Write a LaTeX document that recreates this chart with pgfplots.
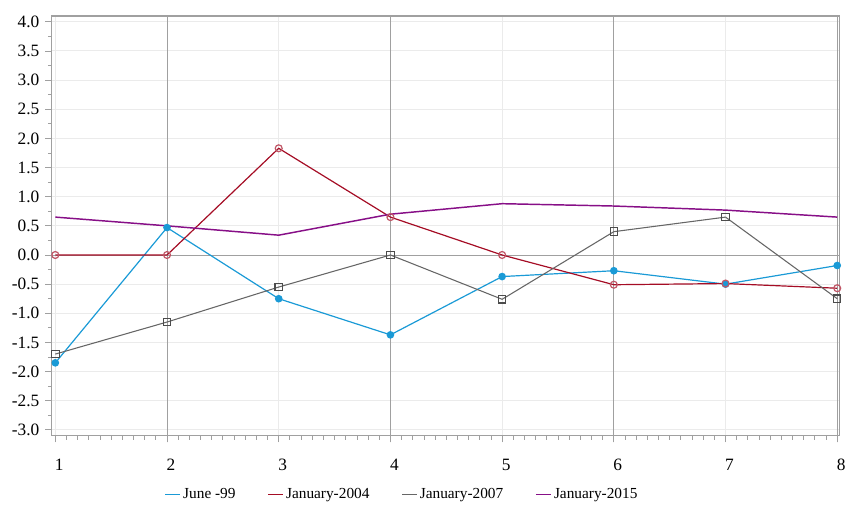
\documentclass[border=0pt]{standalone}
\usepackage{fontspec}
\setmainfont{Liberation Serif}
\usepackage{pgfplots}
\pgfplotsset{compat=1.18}

\definecolor{cjune}{HTML}{1A9AD6}
\definecolor{cjan04}{HTML}{A50D25}
\definecolor{cjan07}{HTML}{666666}
\definecolor{cjan15}{HTML}{870F87}
\definecolor{gridlight}{HTML}{EBEBEB}
\definecolor{griddark}{HTML}{A0A0A0}

\pgfplotsset{
    shortline/.style={
        legend image code/.code={\draw[mark=none,##1] (0pt,0pt) -- (11pt,0pt);}
    }
}

\begin{document}
\begin{tikzpicture}
\begin{axis}[
    scale only axis,
    width=591pt,
    height=315pt,
    xmin=0.97, xmax=8.02,
    ymin=-3.1, ymax=4.1,
    xtick={1,...,8},
    ytick={-3,-2.5,...,4},
    minor x tick num=9,
    minor y tick num=1,
    tick align=outside,
    xtick pos=bottom,
    ytick pos=left,
    major tick length=5pt,
    minor tick length=3pt,
    tick style={griddark, line width=0.6pt},
    axis line style={griddark, line width=0.8pt},
    xmajorgrids, ymajorgrids,
    major grid style={gridlight, line width=0.7pt},
    extra x ticks={2,4,6,8},
    extra x tick labels={},
    extra x tick style={grid=major, major grid style={griddark, line width=0.7pt}},
    extra y ticks={0},
    extra y tick labels={},
    extra y tick style={grid=major, major grid style={griddark, line width=0.7pt}},
    /pgf/number format/assume math mode=true,
    /pgf/number format/.cd, fixed, fixed zerofill, precision=1, /tikz/.cd,
    xticklabel={\pgfmathprintnumber[precision=0,fixed zerofill=false]{\tick}},
    xticklabel style={font=\fontsize{13}{15}\selectfont, yshift=-9pt, xshift=3pt},
    yticklabel style={font=\fontsize{13}{15}\selectfont, xshift=-1pt},
    legend style={
        at={(0.445,-0.112)}, anchor=north, draw=none,
        legend columns=4, font=\fontsize{11.5}{13}\selectfont,
        /tikz/every even column/.append style={column sep=22pt},
    },
    shortline,
]
\addplot[color=cjune, line width=0.9pt, mark=*, mark size=2.4pt] coordinates {
    (1,-1.85) (2,0.47) (3,-0.75) (4,-1.37) (5,-0.37) (6,-0.27) (7,-0.50) (8,-0.18)
};
\addlegendentry{June -99}
\addplot[color=cjan04, line width=0.9pt, mark=o, mark size=2.6pt, mark options={color=cjan04!70}] coordinates {
    (1,0) (2,0) (3,1.83) (4,0.65) (5,0) (6,-0.51) (7,-0.49) (8,-0.57)
};
\addlegendentry{January-2004}
\addplot[color=cjan07, line width=0.8pt, mark=square, mark size=2.8pt, mark options={color=black!70}] coordinates {
    (1,-1.70) (2,-1.15) (3,-0.55) (4,0.0) (5,-0.76) (6,0.40) (7,0.65) (8,-0.75)
};
\addlegendentry{January-2007}
\addplot[color=cjan15, line width=1.1pt] coordinates {
    (1,0.65) (2,0.50) (3,0.34) (4,0.70) (5,0.88) (6,0.84) (7,0.77) (8,0.65)
};
\addlegendentry{January-2015}
\end{axis}
\path ([xshift=-39pt,yshift=-54.5pt]current axis.south west) rectangle ([xshift=7.5pt,yshift=12pt]current axis.north east);
\end{tikzpicture}
\end{document}
